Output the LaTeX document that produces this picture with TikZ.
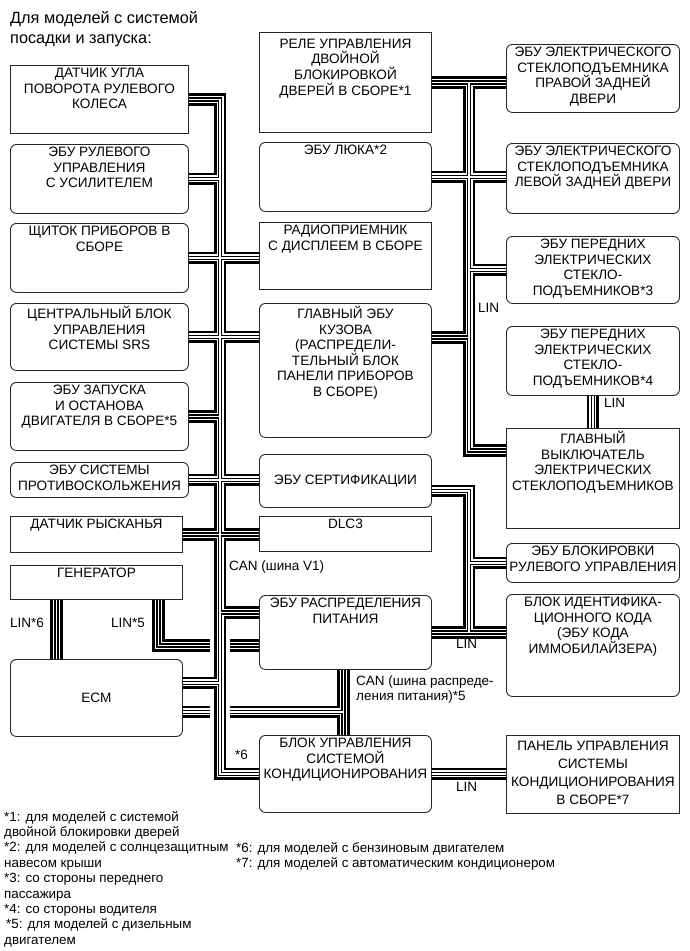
\documentclass[tikz,border=0pt]{standalone}
\usepackage{fontspec}
\setmainfont{Liberation Sans}

\tikzset{
	box/.style={draw=black!85, line width=0.9pt, anchor=north west, inner sep=0pt},
	rbox/.style={box, rounded corners=6pt},
	boxfont/.style={font=\fontsize{13.6}{15.6}\selectfont},
	txt/.style={boxfont, anchor=north, align=center, inner sep=0pt, yshift=-3pt},
	lbl/.style={inner sep=0pt, font=\fontsize{13.5}{15}\selectfont},
	note/.style={anchor=north west, align=left, inner sep=0pt, font=\fontsize{13.4}{15.4}\selectfont}
}

\begin{document}
\begin{tikzpicture}[x=1pt, y=-1pt]
	\useasboundingbox (0,0) rectangle (690,951);
	% heading
	\node[anchor=north west, align=left, inner sep=0pt, font=\fontsize{16.3}{20}\selectfont] (title) at (10,11) {Для моделей с системой\\посадки и запуска:};
	% left column
	\foreach \n/\s/\y/\h/\lab in {sas/box/65/68/{ДАТЧИК УГЛА\\ПОВОРОТА РУЛЕВОГО\\КОЛЕСА},
			eps/rbox/144/69/{ЭБУ РУЛЕВОГО\\УПРАВЛЕНИЯ\\С УСИЛИТЕЛЕМ},
			meter/rbox/223/69/{ЩИТОК ПРИБОРОВ В\\СБОРЕ},
			srs/rbox/303/67/{ЦЕНТРАЛЬНЫЙ БЛОК\\УПРАВЛЕНИЯ\\СИСТЕМЫ SRS},
			sst/rbox/382/68/{ЭБУ ЗАПУСКА\\И ОСТАНОВА\\ДВИГАТЕЛЯ В СБОРЕ*5},
			skid/rbox/462/35/{ЭБУ СИСТЕМЫ\\ПРОТИВОСКОЛЬЖЕНИЯ}}
		{ \node[\s, minimum width=178pt, minimum height=\h pt, label={[txt]north:\lab}] (\n) at (10,\y) {}; }
	\foreach \n/\y/\h/\lab in {yaw/516/36/{ДАТЧИК РЫСКАНЬЯ}, gen/565/34/{ГЕНЕРАТОР}}
		{ \node[box, minimum width=172pt, minimum height=\h pt, label={[txt]north:\lab}] (\n) at (10,\y) {}; }
	\node[rbox, boxfont, minimum width=172pt, minimum height=77pt] (ecm) at (10,659) {ECM};
	% middle column
	\foreach \n/\s/\y/\h/\lab in {relay/box/32/100/{\rule{0pt}{13pt}РЕЛЕ УПРАВЛЕНИЯ\\ДВОЙНОЙ\\БЛОКИРОВКОЙ\\ДВЕРЕЙ В СБОРЕ*1},
			roof/rbox/142/69/{ЭБУ ЛЮКА*2},
			radio/box/222/67/{РАДИОПРИЕМНИК\\С ДИСПЛЕЕМ В СБОРЕ},
			bcm/rbox/303/134/{ГЛАВНЫЙ ЭБУ\\КУЗОВА\\(РАСПРЕДЕЛИ-\\ТЕЛЬНЫЙ БЛОК\\ПАНЕЛИ ПРИБОРОВ\\В СБОРЕ)},
			dlc/box/516/35/{DLC3},
			pwr/rbox/595/74/{ЭБУ РАСПРЕДЕЛЕНИЯ\\ПИТАНИЯ},
			ac/rbox/735/77/{БЛОК УПРАВЛЕНИЯ\\СИСТЕМОЙ\\КОНДИЦИОНИРОВАНИЯ}}
		{ \node[\s, minimum width=172pt, minimum height=\h pt, label={[txt]north:\lab}] (\n) at (259,\y) {}; }
	\node[rbox, boxfont, minimum width=172pt, minimum height=53pt] (cert) at (259,454) {ЭБУ СЕРТИФИКАЦИИ};
	% right column
	\foreach \n/\s/\y/\h/\lab in {rrw/rbox/44/68/{ЭБУ ЭЛЕКТРИЧЕСКОГО\\СТЕКЛОПОДЪЕМНИКА\\ПРАВОЙ ЗАДНЕЙ\\ДВЕРИ},
			rlw/rbox/143/70/{ЭБУ ЭЛЕКТРИЧЕСКОГО\\СТЕКЛОПОДЪЕМНИКА\\ЛЕВОЙ ЗАДНЕЙ ДВЕРИ},
			fpw/rbox/236/67/{ЭБУ ПЕРЕДНИХ\\ЭЛЕКТРИЧЕСКИХ\\СТЕКЛО-\\ПОДЪЕМНИКОВ*3},
			fdw/rbox/326/69/{ЭБУ ПЕРЕДНИХ\\ЭЛЕКТРИЧЕСКИХ\\СТЕКЛО-\\ПОДЪЕМНИКОВ*4},
			msw/box/428/100/{ГЛАВНЫЙ\\ВЫКЛЮЧАТЕЛЬ\\ЭЛЕКТРИЧЕСКИХ\\СТЕКЛОПОДЪЕМНИКОВ},
			lock/rbox/543/39/{ЭБУ БЛОКИРОВКИ\\РУЛЕВОГО УПРАВЛЕНИЯ},
			immo/rbox/594/102/{БЛОК ИДЕНТИФИКА-\\ЦИОННОГО КОДА\\(ЭБУ КОДА\\ИММОБИЛАЙЗЕРА)},
			panel/box/735/78/{\rule{0pt}{12pt}ПАНЕЛЬ УПРАВЛЕНИЯ\\[2.5pt]СИСТЕМЫ\\[2.5pt]КОНДИЦИОНИРОВАНИЯ\\[2.5pt]В СБОРЕ*7}}
		{ \node[\s, minimum width=173pt, minimum height=\h pt, label={[txt]north:\lab}] (\n) at (506,\y) {}; }
	% bus trunks and taps
	\coordinate (v1) at (220,0);
	\coordinate (lin) at (469,0);
	\coordinate (cw) at (210,0);
	\coordinate (ce) at (230,0);
	\coordinate (ecmcan) at ([yshift=15pt]ecm.east);
	\coordinate (ecmpwr) at ([yshift=-14pt]ecm.east);
	\coordinate (bcmr) at ([yshift=33pt]bcm.east);
	\coordinate (certr) at ([yshift=-10pt]cert.east);
	\coordinate (pwrcan) at ([yshift=20pt]pwr.west);
	\coordinate (pwrlin) at ([yshift=-13pt]pwr.west);
	\coordinate (pwrs) at ([xshift=-2pt]pwr.south);
	\coordinate (mswl) at ([yshift=28pt]msw.west);
	\coordinate (genl6) at ([xshift=-40pt]gen.south);
	\coordinate (genl5) at ([xshift=62pt]gen.south);
	% twisted pair drawn in four passes so that the joints merge
	\foreach \w/\c in {12.5/black, 7/white, 4.2/black, 1.6/white}
		\draw[line width=\w pt, draw=\c]
			(sas.east) -- (sas.east -| v1) -- (ac.west -| v1) -- (ac.west)
			(eps.east) -- (eps.east -| v1)
			(meter.east) -- (meter.east -| radio.west)
			(srs.east) -- (srs.east -| bcm.west)
			(sst.east) -- (sst.east -| v1)
			(skid.east) -- (skid.east -| cert.west)
			(yaw.east) -- (yaw.east -| dlc.west)
			(ecmcan) -- (ecmcan -| v1)
			(pwrcan) -- (pwrcan -| v1)
			(relay.east) -- (relay.east -| rrw.west)
			(relay.east -| lin) -- (mswl -| lin) -- (mswl)
			(roof.east) -- (roof.east -| rlw.west)
			(fpw.west) -- (fpw.west -| lin)
			(bcmr) -- (bcmr -| lin)
			(fdw.south) -- (fdw.south |- msw.north)
			(certr) -- (certr -| lin) -- (pwr.east -| lin)
			(lock.west) -- (lock.west -| lin)
			(pwr.east) -- (pwr.east -| immo.west)
			(ac.east) -- (ac.east -| panel.west)
			(genl6) -- (genl6 |- ecm.north)
			(genl5) -- (genl5 |- pwrlin) -- (pwrlin -| cw)
			(pwrlin -| ce) -- (pwrlin)
			(ecmpwr) -- (ecmpwr -| cw)
			(ecmpwr -| ce) -- (ecmpwr -| pwrs)
			(pwrs) -- (pwrs |- ac.north);
	% bus labels
	\node[lbl, anchor=east] (lin6) at (44,623) {LIN*6};
	\node[lbl, anchor=east] (lin5) at (145,623) {LIN*5};
	\node[lbl, anchor=west] (canv1) at (229,567) {CAN (шина V1)};
	\node[lbl, anchor=north west, align=left] (canpwr) at (356,676) {CAN (шина распреде-\\ления питания)*5};
	\node[lbl, anchor=west] (gas6) at (235,755) {*6};
	\node[lbl, anchor=west] (linbcm) at (478,308) {LIN};
	\node[lbl, anchor=west] (linmsw) at (604,403) {LIN};
	\node[lbl, anchor=west] (linimmo) at (456,644) {LIN};
	\node[lbl, anchor=west] (linac) at (456,787) {LIN};
	% footnotes
	\node[note] (notesa) at (4,811) {*1: для моделей с системой\\двойной блокировки дверей\\*2: для моделей с солнцезащитным\\навесом крыши\\*3: со стороны переднего\\пассажира\\*4: со стороны водителя\\\hspace{2pt}*5: для моделей с дизельным\\двигателем};
	\node[note] (notesb) at (236,842) {*6: для моделей с бензиновым двигателем\\*7: для моделей с автоматическим кондиционером};
\end{tikzpicture}
\end{document}
